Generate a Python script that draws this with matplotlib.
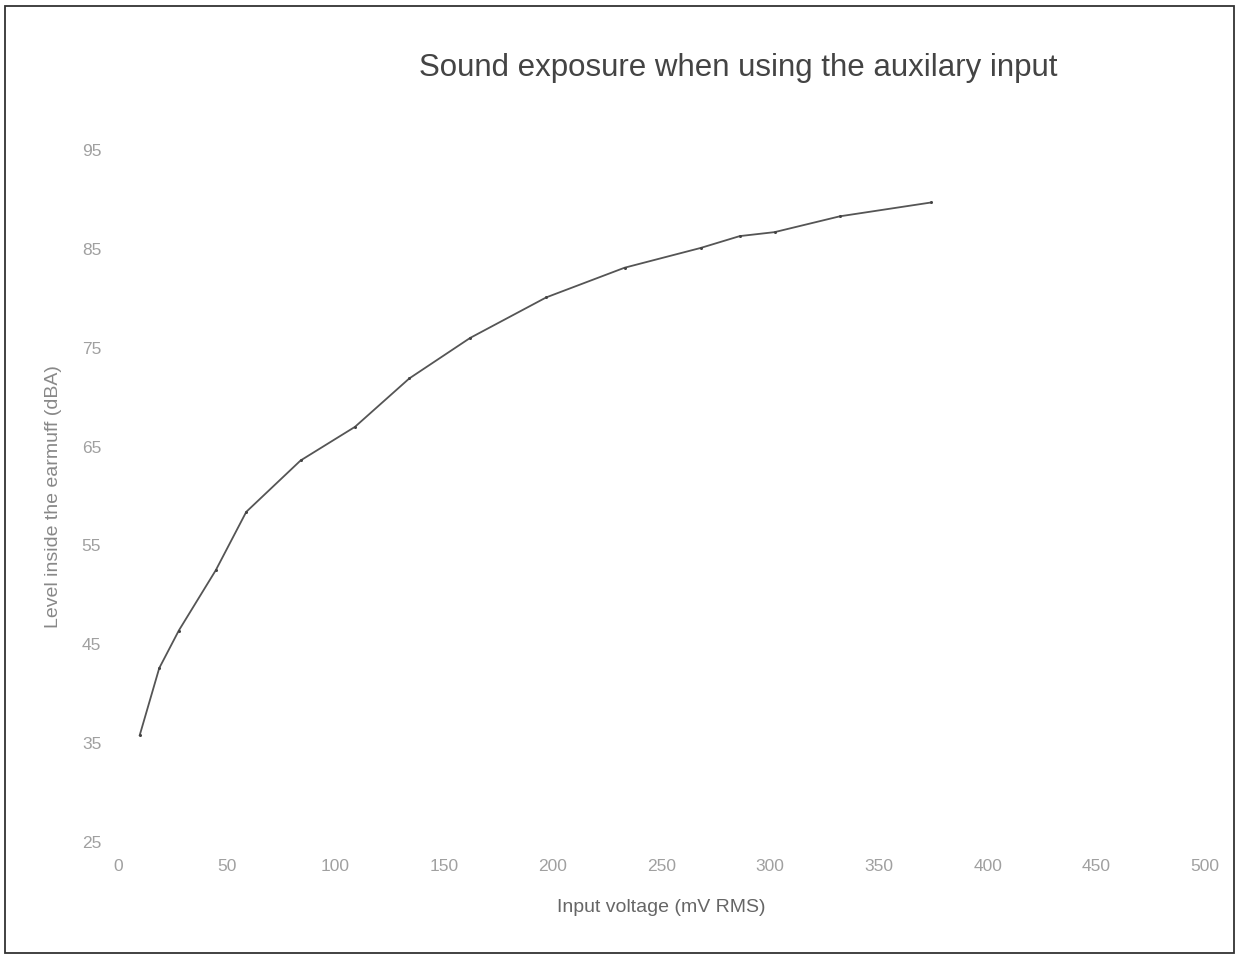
import matplotlib
matplotlib.use("Agg")
import matplotlib.pyplot as plt
from matplotlib.patches import Rectangle

voltage_mv = [10, 19, 28, 45, 59, 84, 109, 134, 162, 197, 233, 268, 286, 302, 332, 374]
level_dba = [35.8, 42.6, 46.4, 52.5, 58.4, 63.6, 67.0, 71.9, 76.0, 80.1, 83.1, 85.1, 86.3, 86.7, 88.3, 89.7]

x_ticks = [0, 50, 100, 150, 200, 250, 300, 350, 400, 450, 500]
y_ticks = [25, 35, 45, 55, 65, 75, 85, 95]

plt.rcParams["font.family"] = ["Liberation Sans", "DejaVu Sans"]

fig = plt.figure(figsize=(12.39, 9.56), dpi=100)
ax = fig.add_axes([0.0952, 0.1192, 0.8774, 0.7238])

ax.plot(voltage_mv, level_dba, color="#555555", linewidth=1.3,
        marker="o", markersize=2.2, markerfacecolor="#444444", markeredgewidth=0)

ax.set_xlim(0, 500)
ax.set_ylim(25, 95)
ax.set_xticks(x_ticks)
ax.set_yticks(y_ticks)
ax.tick_params(axis="both", length=0, labelsize=12.5, labelcolor="#a0a0a0", pad=12)

for s in ax.spines.values():
    s.set_visible(False)

ax.set_xlabel("Input voltage (mV RMS)", fontsize=14, color="#666666", labelpad=18)
ax.set_ylabel("Level inside the earmuff (dBA)", fontsize=14, color="#888888", labelpad=14)

fig.text(0.596, 0.929, "Sound exposure when using the auxilary input",
         ha="center", va="center", fontsize=22.5, color="#444444")

# thin frame around the whole chart
fig.patches.append(Rectangle((0.004, 0.003), 0.992, 0.991, transform=fig.transFigure,
                             fill=False, edgecolor="#333333", linewidth=1.3))

fig.savefig("out.png", dpi=100)
